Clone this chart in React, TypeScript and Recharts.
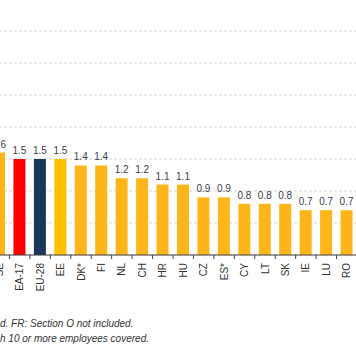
import React from "react";
import { BarChart, Bar, XAxis, YAxis, CartesianGrid, LabelList, Cell } from "recharts";

const categories = ["SE", "EA-17", "EU-28", "EE", "DK*", "FI", "NL", "CH", "HR", "HU", "CZ", "ES*", "CY", "LT", "SK", "IE", "LU", "RO"];
const values = [1.6, 1.5, 1.5, 1.5, 1.4, 1.4, 1.2, 1.2, 1.1, 1.1, 0.9, 0.9, 0.8, 0.8, 0.8, 0.7, 0.7, 0.7];
const yTicks = [0, 0.5, 1, 1.5, 2, 2.5, 3, 3.5, 4];
const footnotes = ["d. FR: Section O not included.", "h 10 or more employees covered."];

const specialColors: Record<string, string> = {
  "EA-17": "#FF0000",
  "EU-28": "#1B365D",
  EE: "#FFC000",
};
const defaultColor = "#FDB51A";

const data = categories.map((c, i) => ({ name: c, value: values[i] }));

const CHART_W = 388;
const MARGIN_L = 10;
const MARGIN_R = 10;
const BAND = (CHART_W - MARGIN_L - MARGIN_R) / categories.length;

const Tick = (props: any) => {
  const { x, y, payload } = props;
  const axisY = y - 8;
  return (
    <g>
      <line x1={x - BAND / 2} x2={x - BAND / 2} y1={axisY} y2={axisY + 4} stroke="#404040" strokeWidth={1} />
      <text
        x={x}
        y={axisY + 8}
        transform={`rotate(-90, ${x}, ${axisY + 8})`}
        textAnchor="end"
        dy="0.35em"
        fontSize={10}
        fill="#333333"
        fontFamily="Arial, 'Liberation Sans', sans-serif"
      >
        {payload.value}
      </text>
    </g>
  );
};

export default function App() {
  return (
    <div
      style={{
        position: "absolute",
        left: 0,
        top: 0,
        width: 356,
        height: 364,
        overflow: "hidden",
        background: "#fff",
        fontFamily: "Arial, 'Liberation Sans', sans-serif",
      }}
    >
      <div style={{ position: "absolute", left: -20.6, top: -11.5 }}>
        <BarChart
          width={CHART_W}
          height={306}
          data={data}
          margin={{ top: 10, right: MARGIN_R, bottom: 0, left: MARGIN_L }}
          barSize={12}
        >
          <CartesianGrid vertical={false} stroke="#d4d4d4" strokeDasharray="3 2" />
          <YAxis hide domain={[0, 4]} ticks={yTicks} type="number" />
          <XAxis
            dataKey="name"
            interval={0}
            height={40}
            tickLine={false}
            axisLine={{ stroke: "#404040", strokeWidth: 1 }}
            tick={<Tick />}
          />
          <Bar dataKey="value" isAnimationActive={false}>
            {data.map((d) => (
              <Cell key={d.name} fill={specialColors[d.name] || defaultColor} />
            ))}
            <LabelList
              dataKey="value"
              position="top"
              offset={5}
              fontSize={10}
              fill="#3d3d4d"
              formatter={(v: any) => Number(v).toFixed(1)}
            />
          </Bar>
        </BarChart>
      </div>
      {footnotes.map((t, i) => (
        <div
          key={i}
          style={{
            position: "absolute",
            left: 0,
            top: 316 + i * 15,
            fontSize: 10,
            lineHeight: "15px",
            fontStyle: "italic",
            color: "#333",
            whiteSpace: "nowrap",
          }}
        >
          {t}
        </div>
      ))}
    </div>
  );
}
